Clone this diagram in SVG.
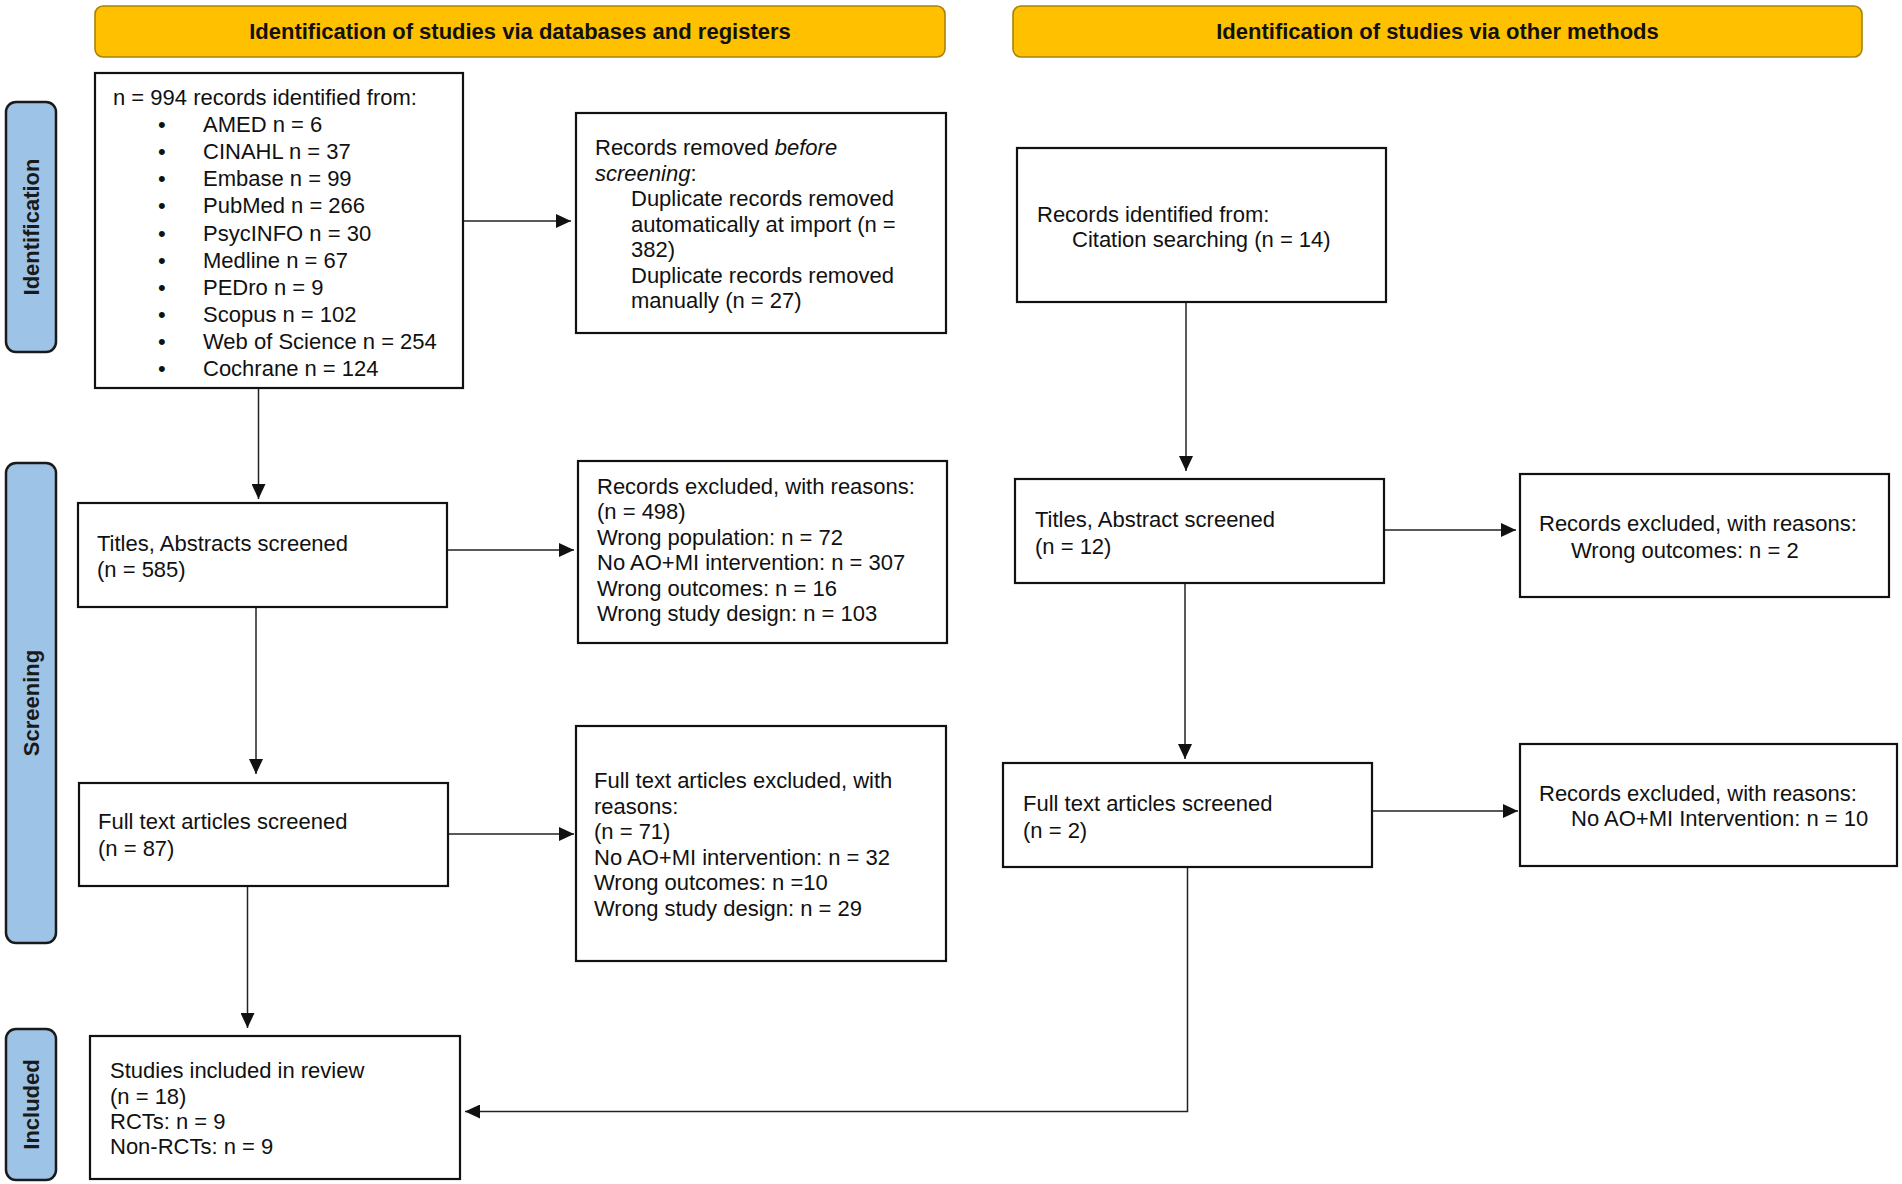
<svg xmlns="http://www.w3.org/2000/svg" width="1902" height="1184" viewBox="0 0 1902 1184">
<style>
.hdr{fill:#FFC000;stroke:#A88408;stroke-width:1.6}
.hdrt{font-family:"Liberation Sans",Arial,sans-serif;font-size:22px;font-weight:bold;fill:#111;text-anchor:middle}
.stage{fill:#9DC3E6;stroke:#1a1a1a;stroke-width:2.5}
.staget{font-family:"Liberation Sans",Arial,sans-serif;font-size:22px;font-weight:bold;fill:#1a1a1a;text-anchor:middle}
.box{fill:#fff;stroke:#111;stroke-width:2.2}
.t{font-family:"Liberation Sans",Arial,sans-serif;font-size:22px;fill:#111}
.ln{fill:none;stroke:#222;stroke-width:1.5}
</style>
<defs>
<marker id="arr" viewBox="0 0 15 14" refX="15" refY="7" markerWidth="15" markerHeight="14" markerUnits="userSpaceOnUse" orient="auto">
<path d="M0,0 L15,7 L0,14 Z" fill="#111"/>
</marker>
</defs>
<rect width="1902" height="1184" fill="#fff"/>

<g id="header-databases">
<rect class="hdr" x="95" y="6" width="850" height="51" rx="8"/>
<text class="hdrt" x="520" y="39">Identification of studies via databases and registers</text>
</g>
<g id="header-other">
<rect class="hdr" x="1013" y="6" width="849" height="51" rx="8"/>
<text class="hdrt" x="1437.5" y="39">Identification of studies via other methods</text>
</g>

<g id="stage-identification">
<rect class="stage" x="6" y="102" width="50" height="250" rx="10"/>
<text class="staget" transform="translate(39 227) rotate(-90)">Identification</text>
</g>
<g id="stage-screening">
<rect class="stage" x="6" y="463" width="50" height="480" rx="10"/>
<text class="staget" transform="translate(39 703) rotate(-90)">Screening</text>
</g>
<g id="stage-included">
<rect class="stage" x="6" y="1029" width="50" height="151" rx="10"/>
<text class="staget" transform="translate(39 1104.5) rotate(-90)">Included</text>
</g>

<g id="connectors">
<line class="ln" x1="463" y1="221" x2="571" y2="221" marker-end="url(#arr)"/>
<line class="ln" x1="258.5" y1="388" x2="258.5" y2="499" marker-end="url(#arr)"/>
<line class="ln" x1="447" y1="550" x2="574" y2="550" marker-end="url(#arr)"/>
<line class="ln" x1="256" y1="607" x2="256" y2="774" marker-end="url(#arr)"/>
<line class="ln" x1="448" y1="834" x2="574" y2="834" marker-end="url(#arr)"/>
<line class="ln" x1="247.5" y1="886" x2="247.5" y2="1028" marker-end="url(#arr)"/>
<line class="ln" x1="1186" y1="302" x2="1186" y2="471" marker-end="url(#arr)"/>
<line class="ln" x1="1384" y1="530" x2="1516" y2="530" marker-end="url(#arr)"/>
<line class="ln" x1="1185" y1="583" x2="1185" y2="759" marker-end="url(#arr)"/>
<line class="ln" x1="1372" y1="811" x2="1518" y2="811" marker-end="url(#arr)"/>
<polyline class="ln" points="1187.5,867 1187.5,1111.5 465,1111.5" marker-end="url(#arr)"/>
</g>

<g id="records-identified">
<rect class="box" x="95" y="73" width="368" height="315"/>
<text class="t" x="113" y="105">n = 994 records identified from:</text>
<text class="t" x="158" y="132.1">•</text><text class="t" x="203" y="132.1">AMED n = 6</text>
<text class="t" x="158" y="159.2">•</text><text class="t" x="203" y="159.2">CINAHL n = 37</text>
<text class="t" x="158" y="186.3">•</text><text class="t" x="203" y="186.3">Embase n = 99</text>
<text class="t" x="158" y="213.4">•</text><text class="t" x="203" y="213.4">PubMed n = 266</text>
<text class="t" x="158" y="240.5">•</text><text class="t" x="203" y="240.5">PsycINFO n = 30</text>
<text class="t" x="158" y="267.6">•</text><text class="t" x="203" y="267.6">Medline n = 67</text>
<text class="t" x="158" y="294.7">•</text><text class="t" x="203" y="294.7">PEDro n = 9</text>
<text class="t" x="158" y="321.8">•</text><text class="t" x="203" y="321.8">Scopus n = 102</text>
<text class="t" x="158" y="348.9">•</text><text class="t" x="203" y="348.9">Web of Science n = 254</text>
<text class="t" x="158" y="376">•</text><text class="t" x="203" y="376">Cochrane n = 124</text>
</g>

<g id="records-removed">
<rect class="box" x="576" y="113" width="370" height="220"/>
<text class="t" x="595" y="155">Records removed <tspan font-style="italic">before</tspan></text>
<text class="t" x="595" y="181"><tspan font-style="italic">screening</tspan>:</text>
<text class="t" x="631" y="206">Duplicate records removed</text>
<text class="t" x="631" y="232">automatically at import (n =</text>
<text class="t" x="631" y="257">382)</text>
<text class="t" x="631" y="283">Duplicate records removed</text>
<text class="t" x="631" y="308">manually (n = 27)</text>
</g>

<g id="titles-screened">
<rect class="box" x="78" y="503" width="369" height="104"/>
<text class="t" x="97" y="550.5">Titles, Abstracts screened</text>
<text class="t" x="97" y="577">(n = 585)</text>
</g>

<g id="records-excluded">
<rect class="box" x="578" y="461" width="369" height="182"/>
<text class="t" x="597" y="493.5">Records excluded, with reasons:</text>
<text class="t" x="597" y="519">(n = 498)</text>
<text class="t" x="597" y="544.5">Wrong population: n = 72</text>
<text class="t" x="597" y="570">No AO+MI intervention: n = 307</text>
<text class="t" x="597" y="595.5">Wrong outcomes: n = 16</text>
<text class="t" x="597" y="621">Wrong study design: n = 103</text>
</g>

<g id="fulltext-screened">
<rect class="box" x="79" y="783" width="369" height="103"/>
<text class="t" x="98" y="829">Full text articles screened</text>
<text class="t" x="98" y="856">(n = 87)</text>
</g>

<g id="fulltext-excluded">
<rect class="box" x="576" y="726" width="370" height="235"/>
<text class="t" x="594" y="788">Full text articles excluded, with</text>
<text class="t" x="594" y="813.5">reasons:</text>
<text class="t" x="594" y="839">(n = 71)</text>
<text class="t" x="594" y="864.5">No AO+MI intervention: n = 32</text>
<text class="t" x="594" y="890">Wrong outcomes: n =10</text>
<text class="t" x="594" y="915.5">Wrong study design: n = 29</text>
</g>

<g id="studies-included">
<rect class="box" x="90" y="1036" width="370" height="143"/>
<text class="t" x="110" y="1078">Studies included in review</text>
<text class="t" x="110" y="1103.5">(n = 18)</text>
<text class="t" x="110" y="1128.5">RCTs: n = 9</text>
<text class="t" x="110" y="1153.5">Non-RCTs: n = 9</text>
</g>

<g id="other-records-identified">
<rect class="box" x="1017" y="148" width="369" height="154"/>
<text class="t" x="1037" y="221.5">Records identified from:</text>
<text class="t" x="1072" y="247">Citation searching (n = 14)</text>
</g>

<g id="other-titles-screened">
<rect class="box" x="1015" y="479" width="369" height="104"/>
<text class="t" x="1035" y="527">Titles, Abstract screened</text>
<text class="t" x="1035" y="553.5">(n = 12)</text>
</g>

<g id="other-records-excluded">
<rect class="box" x="1520" y="474" width="369" height="123"/>
<text class="t" x="1539" y="531">Records excluded, with reasons:</text>
<text class="t" x="1571" y="558">Wrong outcomes: n = 2</text>
</g>

<g id="other-fulltext-screened">
<rect class="box" x="1003" y="763" width="369" height="104"/>
<text class="t" x="1023" y="810.5">Full text articles screened</text>
<text class="t" x="1023" y="838">(n = 2)</text>
</g>

<g id="other-fulltext-excluded">
<rect class="box" x="1520" y="744" width="377" height="122"/>
<text class="t" x="1539" y="801">Records excluded, with reasons:</text>
<text class="t" x="1571" y="826">No AO+MI Intervention: n = 10</text>
</g>
</svg>
